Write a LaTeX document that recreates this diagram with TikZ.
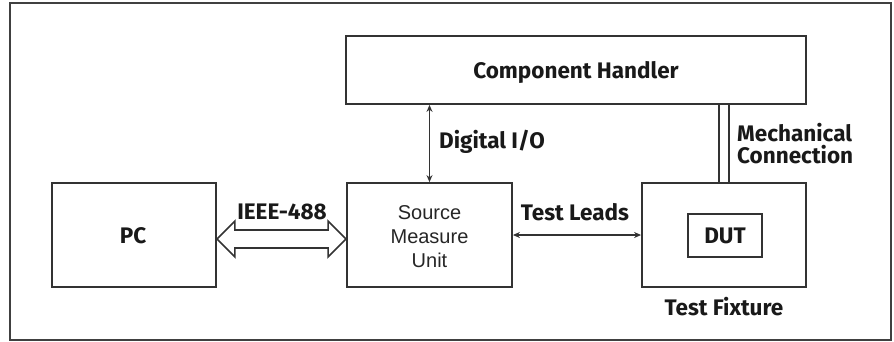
\documentclass[tikz,border=0pt]{standalone}
\usepackage{fontspec}
\setmainfont{Fira Sans}
\newfontfamily\arialfont{Liberation Sans}
\usetikzlibrary{arrows.meta,calc}
\tikzset{
  box/.style={draw=black!80,line width=1.8pt,inner sep=0pt,minimum width=#1},
  lbl/.style={font=\fontsize{22.5}{24}\selectfont\bfseries,text=black!90,inner sep=0pt},
  conn/.style={draw=black!80,line width=1.6pt},
}
\begin{document}
\begin{tikzpicture}[x=1pt,y=-1pt]
\useasboundingbox (0,0) rectangle (894,341);
\draw[black!75,line width=1.6pt] (10,3) rectangle (891,340);
\node[box=164pt,minimum height=104pt] (pc) at (134,235) {};
\node[lbl] (pct) at (133,236) {PC};
\node[box=165pt,minimum height=104pt] (smu) at (429.5,235) {};
\node[inner sep=0pt,align=center,font=\arialfont\fontsize{20}{24}\selectfont,text=black!85] (smut) at (429.5,237) {Source\\Measure\\Unit};
\node[box=164pt,minimum height=104pt] (fix) at (724,235) {};
\node[box=74pt,minimum height=43pt] (dut) at (725,235.5) {};
\node[lbl] (dutt) at (725,236) {DUT};
\node[box=460pt,minimum height=68pt] (ch) at (576,70) {};
\node[lbl] (cht) at (576,72) {Component Handler};
% Digital I/O
\draw[conn,{Stealth[length=7pt,width=6pt]}-{Stealth[length=7pt,width=6pt]}] (ch.south -| smu.north) -- (smu.north);
\node[lbl,anchor=west] (dio) at (439,142) {Digital I/O};
% Mechanical connection
\draw[conn] ($(fix.north)+(-5,0)$) -- ($(fix.north |- ch.south)+(-5,0)$);
\draw[conn] ($(fix.north)+(5,0)$) -- ($(fix.north |- ch.south)+(5,0)$);
\node[lbl,anchor=west,align=left,font=\fontsize{22.5}{22}\selectfont\bfseries] (mc) at (737,144) {Mechanical\\Connection};
\node[lbl] (tft) at (724,307) {Test Fixture};
% Test leads
\draw[conn,{Stealth[length=7pt,width=6pt]}-{Stealth[length=7pt,width=6pt]}] (smu.east) -- (fix.west);
\node[lbl] (tl) at (575,212) {Test Leads};
% IEEE-488 hollow double arrow
\coordinate (a1) at ($(pc.east)+(0,4)$);
\coordinate (a2) at ($(smu.west)+(0,4)$);
\draw[conn,fill=white,line join=miter]
  (a1) -- ++(18,-18) -- ++(0,9) -- ($(a2)+(-18,-9)$) -- ++(0,-9) -- (a2)
  -- ++(-18,18) -- ++(0,-9) -- ($(a1)+(18,9)$) -- ++(0,9) -- cycle;
\node[lbl] (ieee) at (282,212) {IEEE-488};
\end{tikzpicture}
\end{document}
